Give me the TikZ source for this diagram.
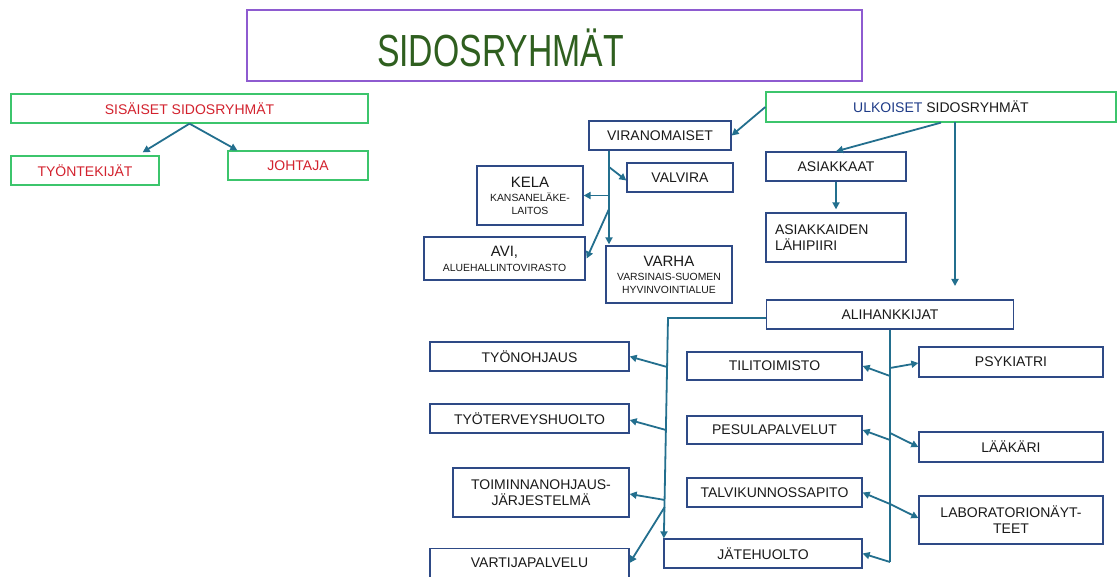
\documentclass[tikz,border=0pt]{standalone}
\usepackage{fontspec}
\usepackage{graphicx}
\setmainfont{Liberation Sans}
\usetikzlibrary{arrows.meta,calc}
\definecolor{lnc}{HTML}{236F8E}
\definecolor{navy}{HTML}{2E4A86}
\definecolor{grn}{HTML}{3CC56C}
\definecolor{purp}{HTML}{8E5BD0}
\definecolor{ttlgreen}{HTML}{2F5F1F}
\definecolor{redt}{HTML}{D3222E}
\definecolor{navyt}{HTML}{1F3C88}
\definecolor{txt}{HTML}{1A1A1A}
\begin{document}
\begin{tikzpicture}[x=1pt,y=-1pt,
  base/.style={draw, inner sep=0pt, font=\fontsize{14}{16}\selectfont, text=txt, line width=1.3pt},
  nbox/.style={base, draw=navy},
  gbox/.style={base, draw=grn},
  small/.style={font=\fontsize{10.4}{13}\selectfont},
  arr/.style={draw=lnc, line width=1.8pt, -{Triangle[length=7pt,width=7pt]}},
  trunkline/.style={draw=lnc, line width=2pt},
  ]
\fill[white] (0,0) rectangle (1117,577);
\useasboundingbox (0,0) rectangle (1117,577);

% title
\node[draw=purp, line width=1.3pt, minimum width=615pt, minimum height=71pt, inner sep=0pt] (title) at (554.5,45.5) {};
\node[text=ttlgreen, inner sep=0pt, font=\fontsize{45}{50}\selectfont] (titletext) at (500.5,48) {\scalebox{0.75}[1]{SIDOSRYHMÄT}};

% internal
\node[gbox, text=redt, minimum width=357pt, minimum height=29pt] (sis) at (189.5,108.5) {SISÄISET SIDOSRYHMÄT};
\node[gbox, text=redt, minimum width=148pt, minimum height=29pt] (tyont) at (85,170.5) {TYÖNTEKIJÄT};
\node[gbox, text=redt, minimum width=140pt, minimum height=29pt] (johtaja) at (298,165.5) {JOHTAJA};
\draw[arr] (sis.south) -- ([xshift=-17pt,yshift=3pt]tyont.north east);
\draw[arr] (sis.south) -- ([xshift=10pt]johtaja.north west);

% external
\node[gbox, minimum width=350pt, minimum height=30pt] (ulk) at (941,107) {\textcolor{navyt}{ULKOISET} SIDOSRYHMÄT};
\node[nbox, minimum width=142pt, minimum height=29pt] (viran) at (660,135.5) {VIRANOMAISET};
\node[nbox, minimum width=106pt, minimum height=59pt, align=center, small] (kela) at (530,195.5)
  {{\fontsize{15}{15}\selectfont KELA}\\[1pt]KANSANELÄKE-\\LAITOS};
\node[nbox, minimum width=106pt, minimum height=29pt] (valvira) at (680,177.5) {VALVIRA};
\node[nbox, minimum width=161pt, minimum height=43pt, align=center, small] (avi) at (504.5,258.5)
  {{\fontsize{15}{15}\selectfont AVI,}\\[2pt]ALUEHALLINTOVIRASTO};
\node[nbox, minimum width=126pt, minimum height=57pt, align=center, small] (varha) at (669,274.5)
  {{\fontsize{15}{15}\selectfont VARHA}\\[1pt]VARSINAIS-SUOMEN\\HYVINVOINTIALUE};
\node[nbox, minimum width=140pt, minimum height=29pt] (asiak) at (836,166.5) {ASIAKKAAT};
\node[nbox, minimum width=140pt, minimum height=49pt, text width=122pt, align=left, inner xsep=9pt] (lahi) at (836,237.5) {ASIAKKAIDEN\\LÄHIPIIRI};
\node[nbox, minimum width=247pt, minimum height=29pt] (alih) at (890,314.5) {ALIHANKKIJAT};

\draw[arr] (ulk.west) -- (viran.east);
\draw[arr] (ulk.south) -- (asiak.north);
\draw[arr] (asiak.south) -- ([yshift=3pt]lahi.north);
\coordinate (ut) at (955,122);
\coordinate (ub) at (955,286);
\draw[arr] (ut) -- (ub);

% viranomaiset branches
\coordinate (vtop) at (609,151);
\coordinate (vb1) at (609,167);
\coordinate (vb2) at (609,195.5);
\coordinate (vb3) at (609,209);
\draw[arr] (vtop) -- ([yshift=1pt]vtop |- varha.north);
\draw[arr] (vb1) -- ([yshift=-3pt]valvira.west);
\draw[arr] (vb2) -- (kela.east);
\draw[arr] (vb3) -- ([xshift=1pt]avi.east);

% left side subcontractor boxes
\node[nbox, minimum width=199pt, minimum height=29pt] (tyonoh) at (529.5,356.5) {TYÖNOHJAUS};
\node[nbox, minimum width=199pt, minimum height=29pt] (tyoter) at (529.5,418.5) {TYÖTERVEYSHUOLTO};
\node[nbox, minimum width=176pt, minimum height=49pt, align=center] (toim) at (541,492.5) {TOIMINNANOHJAUS-\\JÄRJESTELMÄ};
\node[nbox, minimum width=199pt, minimum height=29pt] (vart) at (529.5,563) {VARTIJAPALVELU};

% middle
\node[nbox, minimum width=175pt, minimum height=28pt] (tili) at (774.5,366) {TILITOIMISTO};
\node[nbox, minimum width=175pt, minimum height=28pt] (pesu) at (774.5,430) {PESULAPALVELUT};
\node[nbox, minimum width=175pt, minimum height=29pt] (talvi) at (774.5,492.5) {TALVIKUNNOSSAPITO};
\node[nbox, minimum width=198pt, minimum height=29pt] (jate) at (763,553.5) {JÄTEHUOLTO};

% right
\node[nbox, minimum width=184pt, minimum height=30pt] (psyk) at (1011,362) {PSYKIATRI};
\node[nbox, minimum width=184pt, minimum height=30pt] (laak) at (1011,447) {LÄÄKÄRI};
\node[nbox, minimum width=184pt, minimum height=48pt, align=center] (labo) at (1011,520) {LABORATORIONÄYT-\\TEET};

% left trunk
\coordinate (lt) at (668,318);
\draw[arr] (alih.west |- lt) -- (lt) -- ([xshift=0.5pt]jate.north west);
\coordinate (l1) at (667.1,367);
\coordinate (l2) at (666,430);
\coordinate (l3) at (664.9,500);
\coordinate (l4) at (664.7,507);
\draw[arr] (l1) -- (tyonoh.east);
\draw[arr] (l2) -- ([yshift=-1.5pt]tyoter.east);
\draw[arr] (l3) -- ([yshift=-1.5pt]toim.east);
\draw[arr] (l4) -- (vart.east);

% right trunk
\coordinate (rtop) at (890,330);
\coordinate (rb) at (890,562);
\draw[trunkline] (rtop) -- (rb);
\coordinate (r1) at (890,376);
\coordinate (r1b) at (890,368);
\coordinate (r2) at (890,440);
\coordinate (r2b) at (890,433);
\coordinate (r3) at (890,504);
\draw[arr] (r1) -- (tili.east);
\draw[arr] (r1b) -- ([yshift=-1pt]psyk.west);
\draw[arr] (r2) -- (pesu.east);
\draw[arr] (r2b) -- (laak.west);
\draw[arr] (r3) -- (talvi.east);
\draw[arr] (r3) -- ([yshift=2pt]labo.west);
\draw[arr] (rb) -- (jate.east);
\end{tikzpicture}
\end{document}
